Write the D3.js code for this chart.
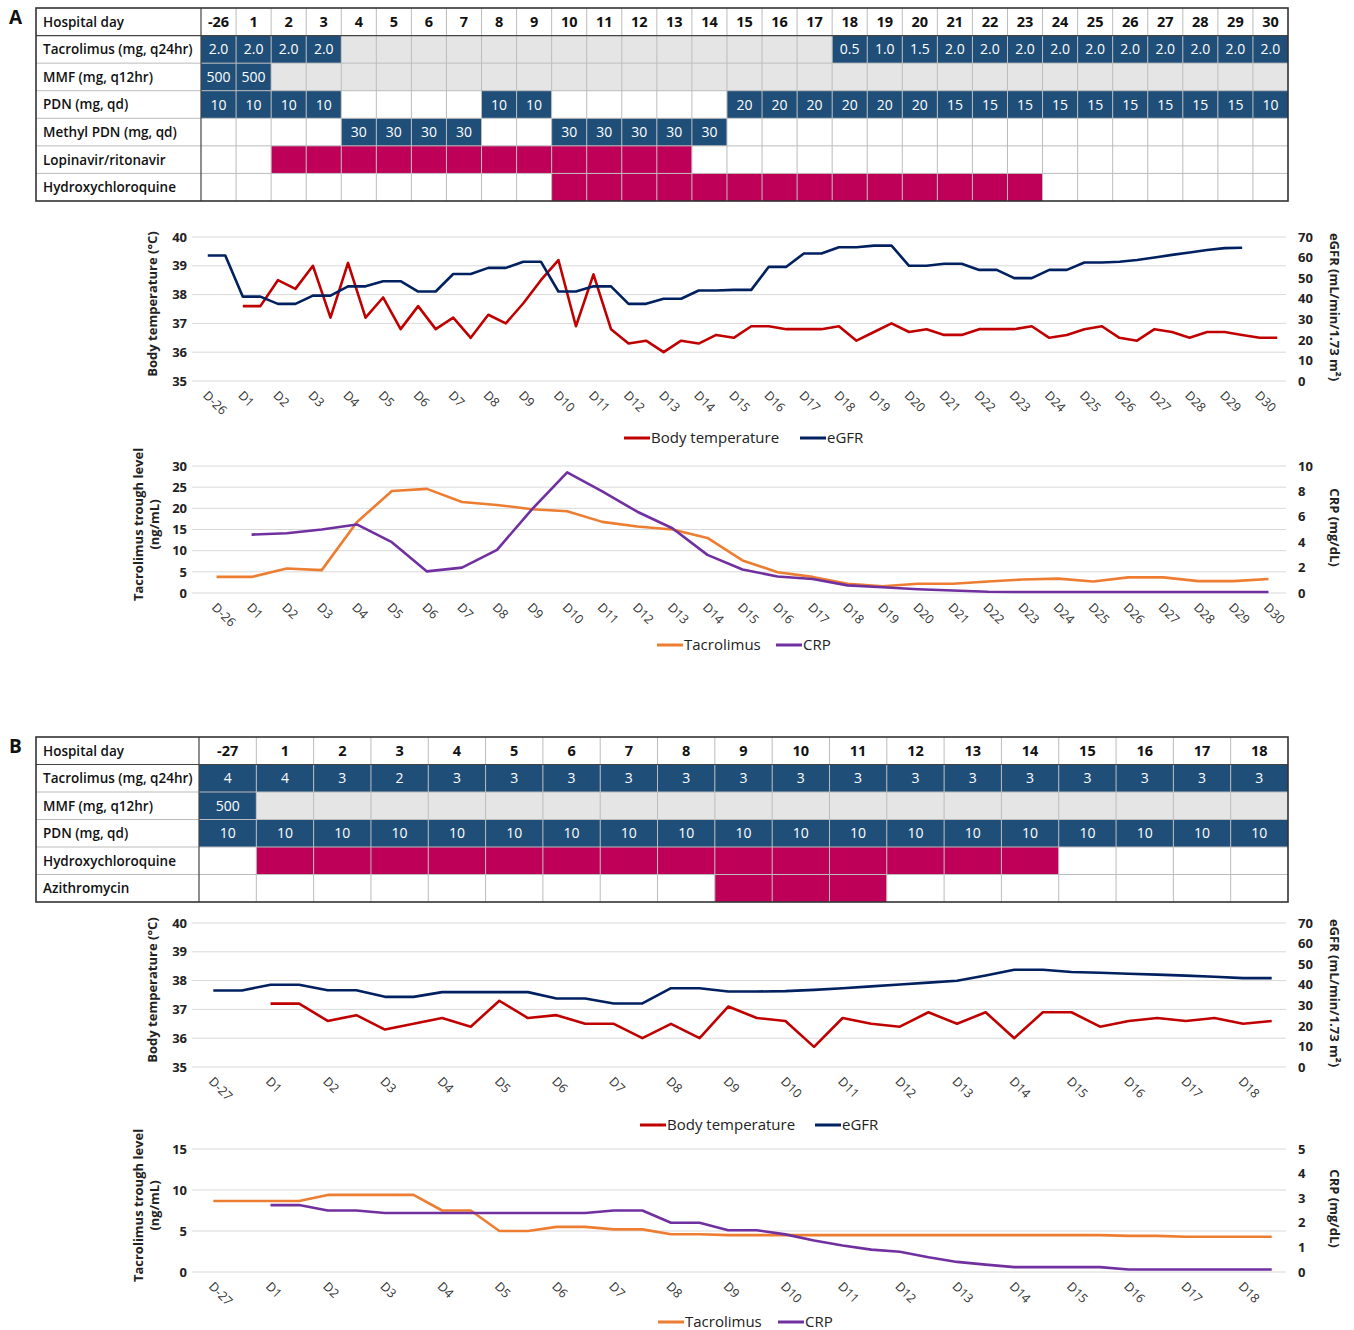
<!DOCTYPE html>
<html>
<head>
<meta charset="utf-8">
<script src="https://cdn.jsdelivr.net/npm/d3@7"></script>
<style>
body { margin: 0; background: #fff; }
svg { display: block; font-family: "Open Sans", sans-serif; }
</style>
</head>
<body>
<div id="chart"></div>
<script>
// ---------- table A ----------
var daysA = [-26, 1, 2, 3, 4, 5, 6, 7, 8, 9, 10, 11, 12, 13, 14, 15, 16, 17, 18, 19, 20, 21, 22, 23, 24, 25, 26, 27, 28, 29, 30];
var tacDoseA = ["2.0","2.0","2.0","2.0",null,null,null,null,null,null,null,null,null,null,null,null,null,null,"0.5","1.0","1.5","2.0","2.0","2.0","2.0","2.0","2.0","2.0","2.0","2.0","2.0"];
var mmfA = ["500","500",null,null,null,null,null,null,null,null,null,null,null,null,null,null,null,null,null,null,null,null,null,null,null,null,null,null,null,null,null];
var pdnA = ["10","10","10","10",null,null,null,null,"10","10",null,null,null,null,null,"20","20","20","20","20","20","15","15","15","15","15","15","15","15","15","10"];
var mpdnA = [null,null,null,null,"30","30","30","30",null,null,"30","30","30","30","30",null,null,null,null,null,null,null,null,null,null,null,null,null,null,null,null];
var lpvA = [0,0,1,1,1,1,1,1,1,1,1,1,1,1,0,0,0,0,0,0,0,0,0,0,0,0,0,0,0,0,0];
var hcqA = [0,0,0,0,0,0,0,0,0,0,1,1,1,1,1,1,1,1,1,1,1,1,1,1,0,0,0,0,0,0,0];

// ---------- table B ----------
var daysB = [-27, 1, 2, 3, 4, 5, 6, 7, 8, 9, 10, 11, 12, 13, 14, 15, 16, 17, 18];
var tacDoseB = ["4","4","3","2","3","3","3","3","3","3","3","3","3","3","3","3","3","3","3"];
var mmfB = ["500",null,null,null,null,null,null,null,null,null,null,null,null,null,null,null,null,null,null];
var pdnB = ["10","10","10","10","10","10","10","10","10","10","10","10","10","10","10","10","10","10","10"];
var hcqB = [0,1,1,1,1,1,1,1,1,1,1,1,1,1,1,0,0,0,0];
var aziB = [0,0,0,0,0,0,0,0,0,1,1,1,0,0,0,0,0,0,0];

// ---------- chart A: two readings per day ----------
var tempA = [null,null, 37.6,37.6, 38.5,38.2, 39.0,37.2, 39.1,37.2, 37.9,36.8, 37.6,36.8, 37.2,36.5, 37.3,37.0, 37.7,38.5,
  39.2,36.9, 38.7,36.8, 36.3,36.4, 36.0,36.4, 36.3,36.6, 36.5,36.9, 36.9,36.8, 36.8,36.8, 36.9,36.4, 36.7,37.0,
  36.7,36.8, 36.6,36.6, 36.8,36.8, 36.8,36.9, 36.5,36.6, 36.8,36.9, 36.5,36.4, 36.8,36.7, 36.5,36.7, 36.7,36.6, 36.5,36.5];
var egfrA = [61,61, 41,41, 37.5,37.5, 41.5,41.5, 46,46, 48.5,48.5, 43.5,43.5, 52,52, 55,55, 58,58,
  43.5,43.5, 46,46, 37.5,37.5, 40,40, 44,44, 44.3,44.3, 55.5,55.5, 62,62, 65,65, 65.8,65.8,
  56,56, 57,57, 54,54, 50,50, 54,54, 57.6,57.6, 58,58.8, 60,61.3, 62.5,63.7, 64.6,64.8, null,null];
// one reading per day
var tacLevelA = [3.8, 3.8, 5.8, 5.4, 16.7, 24.1, 24.6, 21.5, 20.8, 19.8, 19.3, 16.8, 15.7, 15.0, 13.0, 7.7,
  4.9, 3.8, 2.2, 1.6, 2.2, 2.2, 2.7, 3.2, 3.4, 2.7, 3.7, 3.7, 2.8, 2.8, 3.3];
var crpA = [null, 4.6, 4.7, 5.0, 5.4, 4.0, 1.7, 2.0, 3.4, 6.6, 9.5, 8.0, 6.4, 5.1, 3.0, 1.85,
  1.3, 1.1, 0.6, 0.45, 0.3, 0.2, 0.1, 0.08, 0.08, 0.08, 0.08, 0.08, 0.08, 0.08, 0.08];

// ---------- chart B: two readings per day ----------
var tempB = [null,null, 37.2,37.2, 36.6,36.8, 36.3,36.5, 36.7,36.4, 37.3,36.7, 36.8,36.5, 36.5,36.0, 36.5,36.0, 37.1,36.7,
  36.6,35.7, 36.7,36.5, 36.4,36.9, 36.5,36.9, 36.0,36.9, 36.9,36.4, 36.6,36.7, 36.6,36.7, 36.5,36.6];
var egfrB = [37.2,37.2, 40,40, 37.3,37.3, 34.1,34.1, 36.4,36.4, 36.4,36.4, 33.3,33.3, 30.9,30.9, 38.3,38.3, 36.7,36.7,
  36.9,37.5, 38.3,39.2, 40.1,41.0, 41.9,44.5, 47.3,47.3, 46.2,45.8, 45.3,44.9, 44.4,43.9, 43.2,43.2];
var tacLevelB = [8.65,8.65, 8.65,8.65, 9.4,9.4, 9.4,9.4, 7.5,7.5, 5.0,5.0, 5.5,5.5, 5.2,5.2, 4.6,4.6, 4.5,4.5,
  4.5,4.5, 4.5,4.5, 4.5,4.5, 4.5,4.5, 4.5,4.5, 4.5,4.5, 4.4,4.4, 4.3,4.3, 4.3,4.3];
var crpB = [null,null, 2.72,2.72, 2.5,2.5, 2.4,2.4, 2.4,2.4, 2.4,2.4, 2.4,2.4, 2.5,2.5, 2.0,2.0, 1.7,1.7,
  1.53,1.28, 1.08,0.91, 0.82,0.6, 0.41,0.3, 0.2,0.2, 0.2,0.2, 0.1,0.1, 0.1,0.1, 0.1,0.1];

var blue = "#1f4e79", magenta = "#be0059", gray = "#e5e5e5";
var cRed = "#c00000", cNavy = "#002060", cOrange = "#ed7d31", cPurple = "#7030a0";

var svg = d3.select("#chart").append("svg").attr("width", 1354).attr("height", 1330);

function drawTable(t) {
  var g = svg.append("g");
  var x = d3.scaleBand().domain(d3.range(t.days.length)).range([t.xs, t.x2]);
  var y = d3.scaleBand().domain(d3.range(t.rows.length + 1)).range([t.y1, t.y2]);
  var bw = x.bandwidth(), bh = y.bandwidth();

  t.rows.forEach(function(r, ri) {
    var ry = y(ri + 1);
    var cells = r.values.map(function(v, i) { return { v: v, i: i }; });
    g.selectAll(null).data(cells).enter().append("rect")
      .attr("x", function(d) { return x(d.i); })
      .attr("y", ry).attr("width", bw).attr("height", bh)
      .attr("fill", function(d) { return d.v ? r.color : r.off; });
    g.selectAll(null).data(cells.filter(function(d) { return typeof d.v === "string"; }))
      .enter().append("text")
      .attr("x", function(d) { return x(d.i) + bw / 2; })
      .attr("y", ry + bh / 2).attr("dy", "0.36em")
      .attr("text-anchor", "middle").attr("font-size", 14).attr("fill", "#fff")
      .text(function(d) { return d.v; });
    g.append("text").attr("x", t.x1 + 7).attr("y", ry + bh / 2).attr("dy", "0.36em")
      .attr("font-size", 13.5).attr("font-weight", 600).attr("fill", "#111").text(r.name);
  });

  g.selectAll(null).data(t.days).enter().append("text")
    .attr("x", function(d, i) { return x(i) + bw / 2; })
    .attr("y", y(0) + bh / 2).attr("dy", "0.36em")
    .attr("text-anchor", "middle").attr("font-size", 14.5).attr("font-weight", 700).attr("fill", "#111")
    .text(function(d) { return d; });
  g.append("text").attr("x", t.x1 + 7).attr("y", y(0) + bh / 2).attr("dy", "0.36em")
    .attr("font-size", 13.5).attr("font-weight", 600).attr("fill", "#111").text("Hospital day");

  // cell borders
  g.selectAll(null).data(d3.range(1, t.days.length)).enter().append("line")
    .attr("x1", function(i) { return x(i); }).attr("x2", function(i) { return x(i); })
    .attr("y1", t.y1).attr("y2", t.y2).attr("stroke", "#bcbcbc").attr("stroke-width", 1);
  g.selectAll(null).data(d3.range(2, t.rows.length + 1)).enter().append("line")
    .attr("x1", t.x1).attr("x2", t.x2)
    .attr("y1", function(i) { return y(i); }).attr("y2", function(i) { return y(i); })
    .attr("stroke", "#bcbcbc").attr("stroke-width", 1);
  g.append("line").attr("x1", t.x1).attr("x2", t.x2).attr("y1", y(1)).attr("y2", y(1))
    .attr("stroke", "#444").attr("stroke-width", 1.2);
  g.append("line").attr("x1", t.xs).attr("x2", t.xs).attr("y1", t.y1).attr("y2", t.y2)
    .attr("stroke", "#444").attr("stroke-width", 1.2);
  g.append("rect").attr("x", t.x1).attr("y", t.y1).attr("width", t.x2 - t.x1).attr("height", t.y2 - t.y1)
    .attr("fill", "none").attr("stroke", "#333").attr("stroke-width", 1.6);

  svg.append("text").attr("x", 9).attr("y", t.y1 + 16).attr("font-size", 19).attr("font-weight", 700)
    .attr("fill", "#111").text(t.letter);
}

function drawChart(c) {
  var g = svg.append("g");
  var n = c.series[0].values.length;
  var x = d3.scaleBand().domain(d3.range(n)).range([199, 1286]);
  var cx = function(i) { return x(i) + x.bandwidth() / 2; };
  var yL = d3.scaleLinear().domain(c.lDom).range([c.bottom, c.top]);
  var yR = d3.scaleLinear().domain(c.rDom).range([c.bottom, c.top]);

  g.selectAll(null).data(c.lTicks).enter().append("line")
    .attr("x1", 192).attr("x2", 1286)
    .attr("y1", function(d) { return yL(d); }).attr("y2", function(d) { return yL(d); })
    .attr("stroke", "#d9d9d9").attr("stroke-width", 1);

  var fmt = d3.format("d");
  var aL = g.append("g").attr("transform", "translate(187,0)")
    .call(d3.axisLeft(yL).tickValues(c.lTicks).tickFormat(fmt).tickSize(0).tickPadding(0));
  var aR = g.append("g").attr("transform", "translate(1298,0)")
    .call(d3.axisRight(yR).tickValues(c.rTicks).tickFormat(fmt).tickSize(0).tickPadding(0));
  [aL, aR].forEach(function(a) {
    a.select(".domain").remove();
    a.attr("font-family", null).attr("font-size", 13).attr("font-weight", 700);
    a.selectAll("text").attr("fill", "#222");
  });

  var xl = d3.scalePoint().domain(c.labels).range([cx(0), cx(n - c.per)]);
  var aX = g.append("g").attr("transform", "translate(0," + (c.bottom + 15) + ")")
    .call(d3.axisBottom(xl).tickSize(0));
  aX.select(".domain").remove();
  aX.attr("font-family", null).attr("font-size", 12.5);
  aX.selectAll("text").attr("fill", "#333").attr("x", -4).attr("y", 0).attr("dy", "0.35em")
    .attr("text-anchor", "start").attr("transform", "rotate(45)");

  c.series.forEach(function(s) {
    var ys = s.axis === "L" ? yL : yR;
    var line = d3.line()
      .defined(function(d) { return d != null; })
      .x(function(d, i) { return cx(i); })
      .y(function(d) { return ys(d); });
    g.append("path").datum(s.values).attr("d", line)
      .attr("fill", "none").attr("stroke", s.color).attr("stroke-width", 2.6)
      .attr("stroke-linejoin", "round");
  });

  var mid = (c.top + c.bottom) / 2;
  var tl = g.append("text").attr("transform", "translate(" + c.lTitleX + "," + (mid - 5) + ") rotate(-90)")
    .attr("text-anchor", "middle").attr("font-size", 13).attr("font-weight", 700).attr("fill", "#222");
  c.lTitle.forEach(function(s, i) {
    tl.append("tspan").attr("x", 0).attr("dy", i === 0 ? 0 : "1.25em").text(s);
  });
  g.append("text").attr("transform", "translate(1330," + (mid - 2) + ") rotate(90)")
    .attr("text-anchor", "middle").attr("font-size", 13).attr("font-weight", 700).attr("fill", "#222")
    .text(c.rTitle);

  c.series.forEach(function(s, i) {
    var lx = c.legendX[i];
    g.append("line").attr("x1", lx).attr("x2", lx + 26).attr("y1", c.legendY).attr("y2", c.legendY)
      .attr("stroke", s.color).attr("stroke-width", 3);
    g.append("text").attr("x", lx + 27).attr("y", c.legendY).attr("dy", "0.35em")
      .attr("font-size", 15).attr("fill", "#222").text(s.name);
  });
}

drawTable({
  letter: "A", days: daysA, x1: 36, xs: 201, x2: 1288, y1: 8, y2: 201,
  rows: [
    { name: "Tacrolimus (mg, q24hr)", values: tacDoseA, color: blue, off: gray },
    { name: "MMF (mg, q12hr)", values: mmfA, color: blue, off: gray },
    { name: "PDN (mg, qd)", values: pdnA, color: blue, off: "#fff" },
    { name: "Methyl PDN (mg, qd)", values: mpdnA, color: blue, off: "#fff" },
    { name: "Lopinavir/ritonavir", values: lpvA, color: magenta, off: "#fff" },
    { name: "Hydroxychloroquine", values: hcqA, color: magenta, off: "#fff" }
  ]
});

drawTable({
  letter: "B", days: daysB, x1: 36, xs: 199, x2: 1288, y1: 737, y2: 902,
  rows: [
    { name: "Tacrolimus (mg, q24hr)", values: tacDoseB, color: blue, off: gray },
    { name: "MMF (mg, q12hr)", values: mmfB, color: blue, off: gray },
    { name: "PDN (mg, qd)", values: pdnB, color: blue, off: "#fff" },
    { name: "Hydroxychloroquine", values: hcqB, color: magenta, off: "#fff" },
    { name: "Azithromycin", values: aziB, color: magenta, off: "#fff" }
  ]
});

var labA = daysA.map(function(d) { return "D" + d; });
var labB = daysB.map(function(d) { return "D" + d; });

drawChart({
  top: 237, bottom: 381, per: 2, labels: labA,
  lDom: [35, 40], lTicks: [35, 36, 37, 38, 39, 40], rDom: [0, 70], rTicks: [0, 10, 20, 30, 40, 50, 60, 70],
  lTitle: ["Body temperature (°C)"], lTitleX: 157, rTitle: "eGFR (mL/min/1.73 m²)",
  series: [
    { name: "Body temperature", values: tempA, axis: "L", color: cRed },
    { name: "eGFR", values: egfrA, axis: "R", color: cNavy }
  ],
  legendY: 438, legendX: [624, 800]
});

drawChart({
  top: 466, bottom: 593, per: 1, labels: labA,
  lDom: [0, 30], lTicks: [0, 5, 10, 15, 20, 25, 30], rDom: [0, 10], rTicks: [0, 2, 4, 6, 8, 10],
  lTitle: ["Tacrolimus trough level", "(ng/mL)"], lTitleX: 143, rTitle: "CRP (mg/dL)",
  series: [
    { name: "Tacrolimus", values: tacLevelA, axis: "L", color: cOrange },
    { name: "CRP", values: crpA, axis: "R", color: cPurple }
  ],
  legendY: 645, legendX: [657, 776]
});

drawChart({
  top: 923, bottom: 1067, per: 2, labels: labB,
  lDom: [35, 40], lTicks: [35, 36, 37, 38, 39, 40], rDom: [0, 70], rTicks: [0, 10, 20, 30, 40, 50, 60, 70],
  lTitle: ["Body temperature (°C)"], lTitleX: 157, rTitle: "eGFR (mL/min/1.73 m²)",
  series: [
    { name: "Body temperature", values: tempB, axis: "L", color: cRed },
    { name: "eGFR", values: egfrB, axis: "R", color: cNavy }
  ],
  legendY: 1125, legendX: [640, 815]
});

drawChart({
  top: 1149, bottom: 1272, per: 2, labels: labB,
  lDom: [0, 15], lTicks: [0, 5, 10, 15], rDom: [0, 5], rTicks: [0, 1, 2, 3, 4, 5],
  lTitle: ["Tacrolimus trough level", "(ng/mL)"], lTitleX: 143, rTitle: "CRP (mg/dL)",
  series: [
    { name: "Tacrolimus", values: tacLevelB, axis: "L", color: cOrange },
    { name: "CRP", values: crpB, axis: "R", color: cPurple }
  ],
  legendY: 1322, legendX: [658, 778]
});
</script>
</body>
</html>
